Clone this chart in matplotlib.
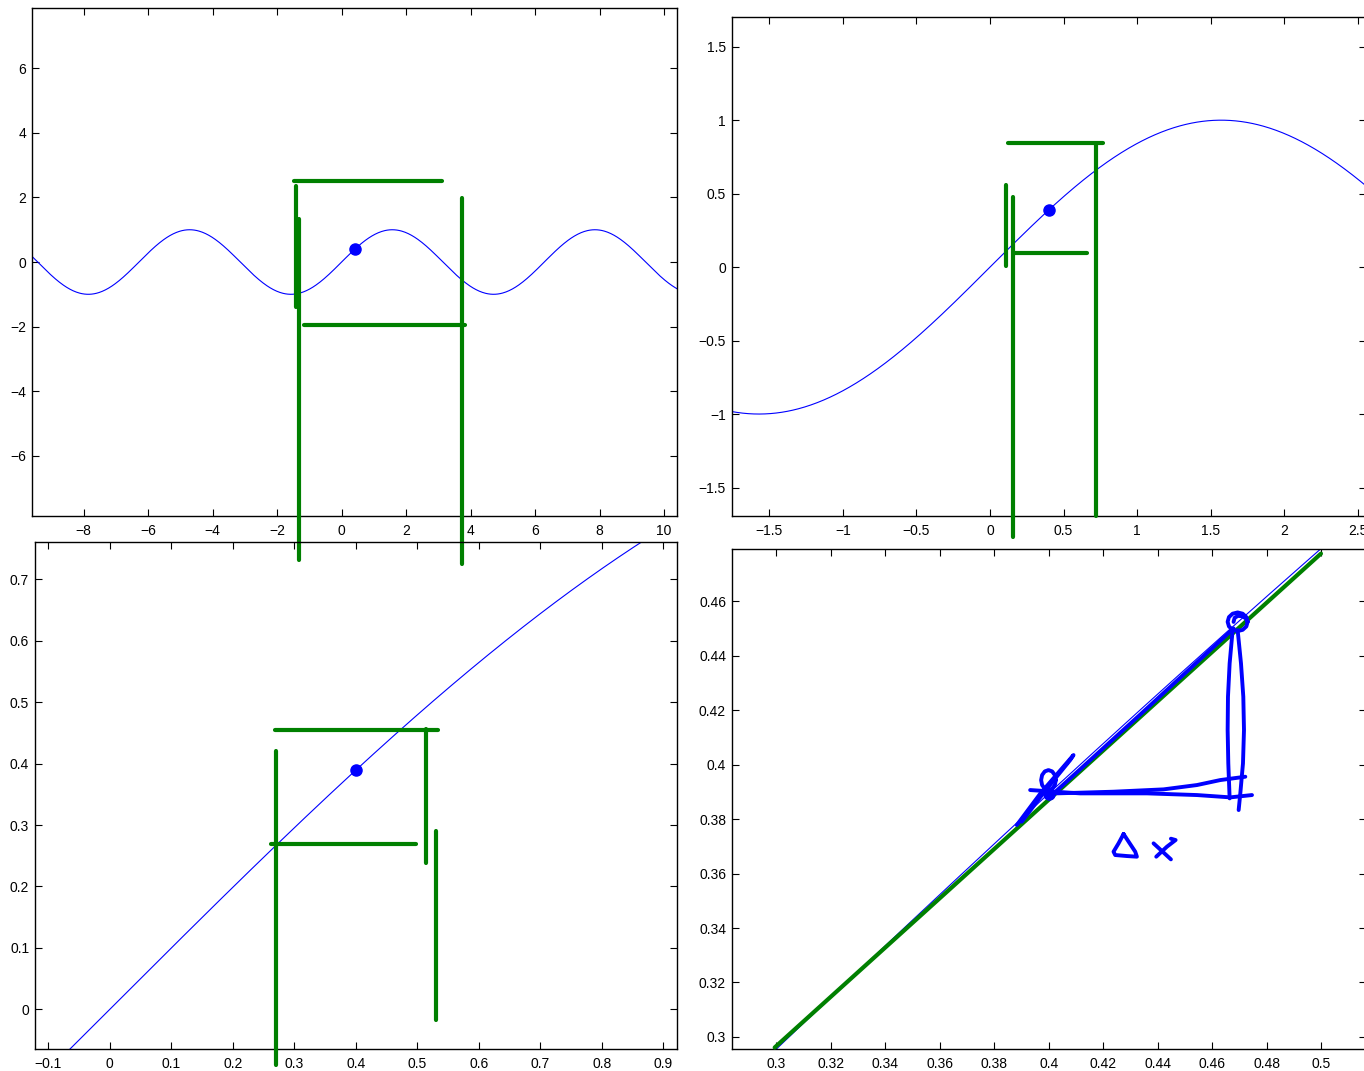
import numpy as np
import matplotlib.pyplot as plt
from matplotlib.ticker import FuncFormatter

plt.rcParams['font.family'] = ['Liberation Sans', 'DejaVu Sans']

# point of interest on the curve y = sin(x)
x0 = 0.4

# view limits for the four zoom levels
tl_xlim, tl_ylim = (-9.6, 10.4), (-7.87, 7.87)
tr_xlim, tr_ylim = (-1.756, 2.555), (-1.694, 1.702)
bl_xlim, bl_ylim = (-0.122, 0.922), (-0.064, 0.760)
br_xlim, br_ylim = (0.2836, 0.5165), (0.2957, 0.4793)

# tick positions
tl_xticks = [-8, -6, -4, -2, 0, 2, 4, 6, 8, 10]
tl_yticks = [-6, -4, -2, 0, 2, 4, 6]
tr_xticks = [-1.5, -1, -0.5, 0, 0.5, 1, 1.5, 2, 2.5]
tr_yticks = [-1.5, -1, -0.5, 0, 0.5, 1, 1.5]
bl_xticks = [-0.1, 0, 0.1, 0.2, 0.3, 0.4, 0.5, 0.6, 0.7, 0.8, 0.9]
bl_yticks = [0, 0.1, 0.2, 0.3, 0.4, 0.5, 0.6, 0.7]
br_xticks = [0.3, 0.32, 0.34, 0.36, 0.38, 0.4, 0.42, 0.44, 0.46, 0.48, 0.5]
br_yticks = [0.3, 0.32, 0.34, 0.36, 0.38, 0.4, 0.42, 0.44, 0.46]

# hand drawn green marks, (xs, ys) in each panel's data units
tl_green = [
    ([-1.48, 3.11], [2.52, 2.52]),
    ([-1.41, -1.41], [2.35, -1.40]),
    ([-1.32, -1.32], [1.33, -9.24]),
    ([-1.16, 3.83], [-1.96, -1.96]),
    ([3.72, 3.72], [1.98, -9.35]),
]
tr_green = [
    ([0.120, 0.769], [0.843, 0.843]),
    ([0.722, 0.722], [0.843, -1.694]),
    ([0.111, 0.111], [0.559, 0.007]),
    ([0.154, 0.154], [0.477, -1.837]),
    ([0.160, 0.660], [0.099, 0.099]),
]
bl_green = [
    ([0.268, 0.533], [0.455, 0.455]),
    ([0.514, 0.514], [0.457, 0.238]),
    ([0.531, 0.531], [0.290, -0.017]),
    ([0.2705, 0.2705], [0.421, -0.091]),
    ([0.2625, 0.4977], [0.2696, 0.2696]),
]
br_green = [
    ([0.2994, 0.5], [0.2961, 0.4776]),
]

# hand drawn blue marks in the last panel
br_blue = [
    # circle at the upper point
    ([0.47308, 0.47259, 0.47124, 0.46940, 0.46756, 0.46621, 0.46572, 0.46621,
      0.46756, 0.46940, 0.47124, 0.47259, 0.47308, 0.47240, 0.47100, 0.46950,
      0.46830, 0.46790],
     [0.45255, 0.45427, 0.45552, 0.45598, 0.45552, 0.45427, 0.45255, 0.45083,
      0.44958, 0.44912, 0.44958, 0.45083, 0.45255, 0.45380, 0.45460, 0.45470,
      0.45400, 0.45250]),
    # circle at the lower point
    ([0.40264, 0.40228, 0.40129, 0.39994, 0.39859, 0.39760, 0.39724, 0.39760,
      0.39859, 0.39994, 0.40129, 0.40228, 0.40264],
     [0.39438, 0.39622, 0.39756, 0.39805, 0.39756, 0.39622, 0.39438, 0.39254,
      0.39120, 0.39071, 0.39120, 0.39254, 0.39438]),
    # slash through the lower point
    ([0.38831, 0.39700, 0.40913, 0.40791, 0.39800, 0.39014],
     [0.37785, 0.38950, 0.40357, 0.40173, 0.38950, 0.37908]),
    # hypotenuse
    ([0.40117, 0.43400, 0.46793], [0.38887, 0.41880, 0.45010]),
    # horizontal leg
    ([0.39321, 0.41158, 0.43608, 0.45446, 0.46671, 0.47467],
     [0.39071, 0.38949, 0.38949, 0.38887, 0.38802, 0.38887]),
    ([0.40301, 0.42383, 0.44221, 0.45446, 0.46303, 0.47222],
     [0.38949, 0.39010, 0.39096, 0.39255, 0.39438, 0.39561]),
    # vertical leg
    ([0.46756, 0.46646, 0.46585, 0.46573, 0.46597, 0.46646],
     [0.44949, 0.43725, 0.42500, 0.41275, 0.40051, 0.38765]),
    ([0.46940, 0.47063, 0.47148, 0.47173, 0.47136, 0.47038, 0.46977],
     [0.44949, 0.43725, 0.42500, 0.41275, 0.40051, 0.38949, 0.38336]),
    # "Δ"
    ([0.42751, 0.42567, 0.42383, 0.42444, 0.42873, 0.43241, 0.43179, 0.42751],
     [0.37455, 0.37112, 0.36806, 0.36683, 0.36646, 0.36622, 0.36806, 0.37455]),
    # "x"
    ([0.43853, 0.44160, 0.44490], [0.37112, 0.36830, 0.36524]),
    ([0.44490, 0.44662, 0.44343, 0.43951], [0.37283, 0.37234, 0.36989, 0.36622]),
]

GREEN = '#008000'
fmt = FuncFormatter(lambda v, p: ('%g' % round(v, 6)).replace('-', '\u2212'))

fig = plt.figure(figsize=(13.64, 10.71), dpi=100)
fig.patch.set_facecolor('white')

panels = [
    ([0.02346, 0.5182, 0.4729, 0.4743], tl_xlim, tl_ylim, tl_xticks, tl_yticks, tl_green, []),
    ([0.5364, 0.5182, 0.4650, 0.4659], tr_xlim, tr_ylim, tr_xticks, tr_yticks, tr_green, []),
    ([0.02551, 0.02092, 0.4708, 0.4726], bl_xlim, bl_ylim, bl_xticks, bl_yticks, bl_green, []),
    ([0.5364, 0.02092, 0.4650, 0.4665], br_xlim, br_ylim, br_xticks, br_yticks, br_green, br_blue),
]

for rect, xlim, ylim, xt, yt, green, blue in panels:
    ax = fig.add_axes(rect)
    ax.patch.set_visible(False)
    xs = np.linspace(xlim[0], xlim[1], 800)
    ax.plot(xs, np.sin(xs), color='blue', lw=0.8)
    for gx, gy in green:
        ax.plot(gx, gy, color=GREEN, lw=3, solid_capstyle='round', clip_on=False, zorder=4)
    for bx, by in blue:
        ax.plot(bx, by, color='blue', lw=2.8, solid_capstyle='round',
                solid_joinstyle='round', zorder=5)
    ax.plot([x0], [np.sin(x0)], 'o', color='blue', ms=8, zorder=6)
    ax.set_xlim(xlim)
    ax.set_ylim(ylim)
    ax.set_xticks(xt)
    ax.set_yticks(yt)
    ax.xaxis.set_major_formatter(fmt)
    ax.yaxis.set_major_formatter(fmt)
    ax.tick_params(direction='in', top=True, right=True, length=5, width=0.8,
                   labelsize=10, colors='black')
    ax.tick_params(axis='x', pad=6)
    ax.tick_params(axis='y', pad=4)
    for s in ax.spines.values():
        s.set_linewidth(1.0)

fig.savefig('out.png', dpi=100, facecolor='white')
